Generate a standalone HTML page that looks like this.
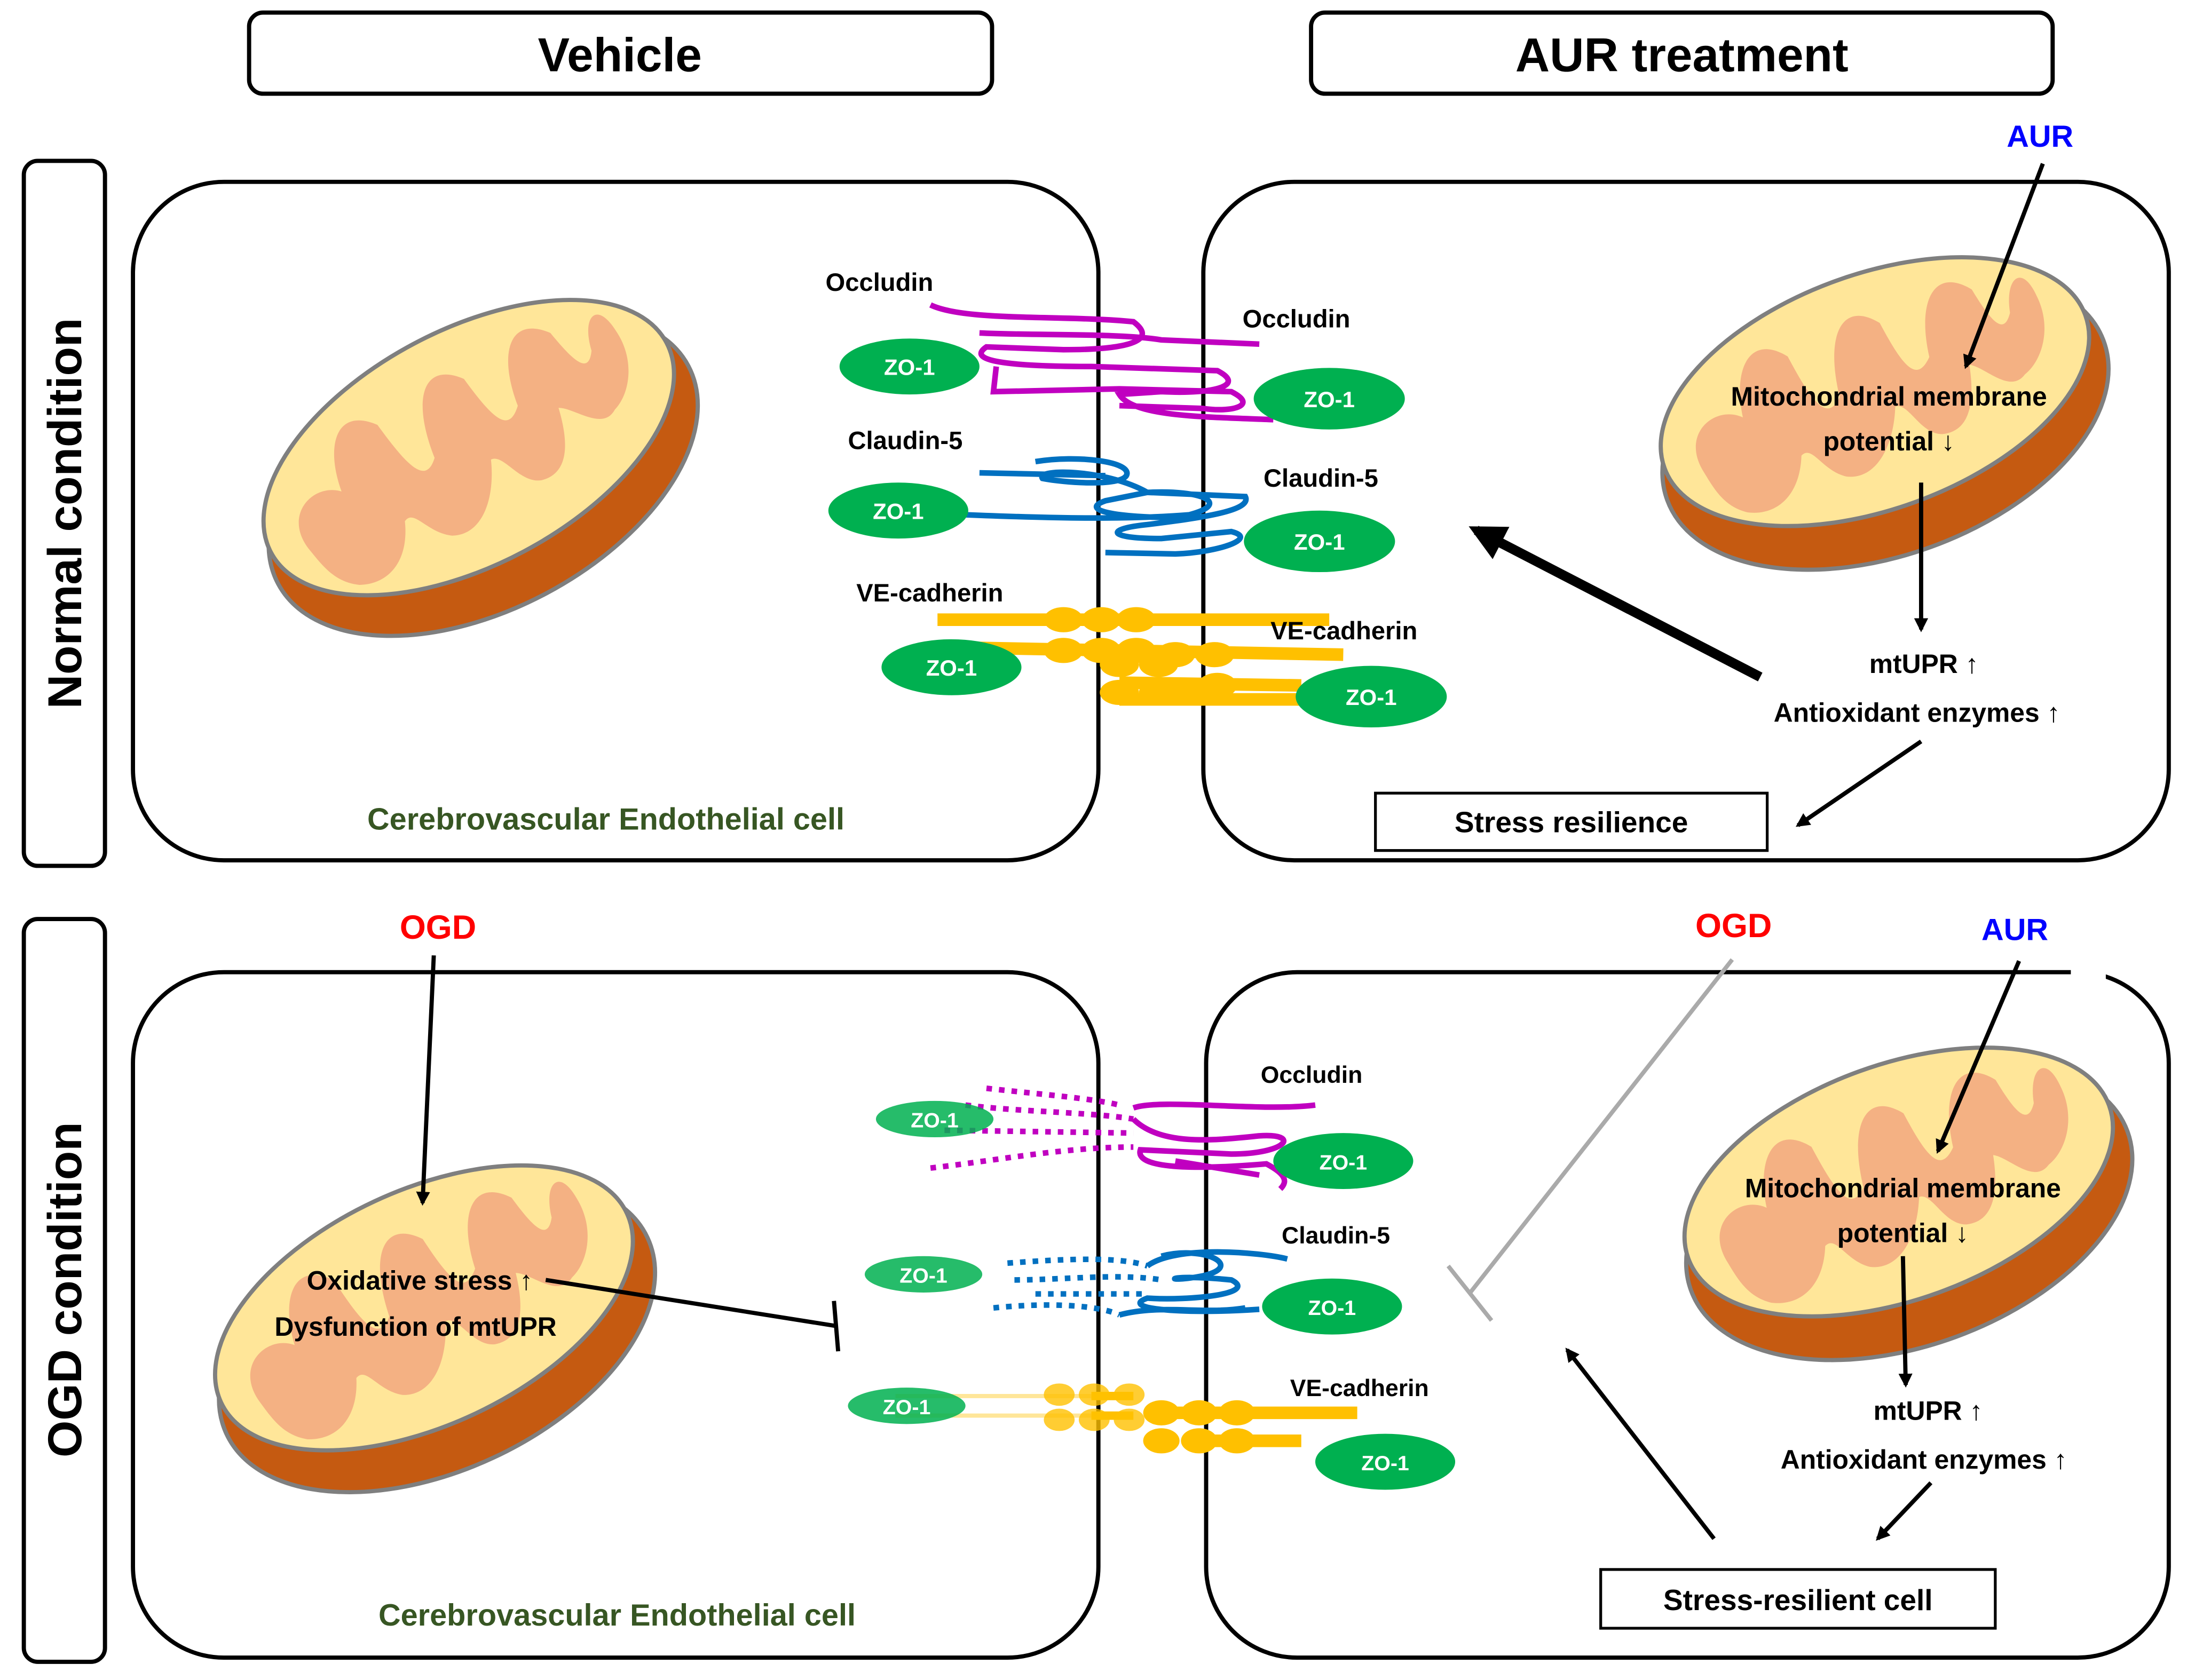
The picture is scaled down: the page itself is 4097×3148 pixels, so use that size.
<!DOCTYPE html>
<html><head><meta charset="utf-8"><style>
html,body{margin:0;padding:0;background:#fff;}
svg{display:block;}
text{font-family:"Liberation Sans",Arial,sans-serif;font-weight:bold;}
</style></head><body>
<svg width="4097" height="3148" viewBox="0 0 1563 1201" xmlns="http://www.w3.org/2000/svg">
<defs>
<g id="mito">
  <ellipse cx="0" cy="22" rx="166" ry="96" fill="#c55a11" stroke="#7f7f7f" stroke-width="3"/>
  <ellipse cx="0" cy="0" rx="160" ry="84" fill="#ffe699" stroke="#7f7f7f" stroke-width="3"/>
  <path d="M-135,10 C-140,-20 -110,-30 -95,-15 C-90,-50 -70,-70 -50,-45 C-45,-10 -40,10 -25,-5 C-20,-50 0,-70 20,-45 C25,-10 30,5 45,-10 C50,-50 70,-70 90,-45 C95,-20 100,-5 110,-20 C115,-45 130,-50 132,-25 C135,0 120,20 105,25 C90,35 80,10 70,5 C65,30 55,50 35,45 C20,40 20,15 10,15 C0,40 -20,60 -40,50 C-55,40 -55,20 -65,25 C-75,50 -95,60 -115,50 C-130,40 -132,25 -135,10 Z" fill="#f4b183"/>
</g>
<marker id="ah" markerWidth="10" markerHeight="10" refX="8" refY="5" orient="auto" markerUnits="userSpaceOnUse"><path d="M0,0 L10,5 L0,10 Z" fill="#000"/></marker>
<marker id="ahb" markerWidth="26" markerHeight="26" refX="20" refY="13" orient="auto" markerUnits="userSpaceOnUse"><path d="M0,0 L26,13 L0,26 Z" fill="#000"/></marker>
</defs>

<!-- headers -->
<rect x="178" y="9" width="531" height="58" rx="10" fill="#fff" stroke="#000" stroke-width="3"/>
<text x="443" y="51" font-size="34" text-anchor="middle">Vehicle</text>
<rect x="937" y="9" width="530" height="58" rx="10" fill="#fff" stroke="#000" stroke-width="3"/>
<text x="1202" y="51" font-size="34" text-anchor="middle">AUR  treatment</text>
<rect x="17" y="115" width="58" height="504" rx="10" fill="#fff" stroke="#000" stroke-width="3"/>
<text transform="translate(58,367) rotate(-90)" font-size="34" text-anchor="middle">Normal  condition</text>
<rect x="17" y="657" width="58" height="531" rx="10" fill="#fff" stroke="#000" stroke-width="3"/>
<text transform="translate(58,922) rotate(-90)" font-size="34" text-anchor="middle">OGD condition</text>

<!-- cells -->
<rect x="95" y="130" width="690" height="485" rx="65" fill="none" stroke="#000" stroke-width="3"/>
<rect x="860" y="130" width="690" height="485" rx="65" fill="none" stroke="#000" stroke-width="3"/>
<rect x="95" y="695" width="690" height="490" rx="65" fill="none" stroke="#000" stroke-width="3"/>
<rect x="862" y="695" width="688" height="490" rx="65" fill="none" stroke="#000" stroke-width="3"/>
<rect x="1480" y="690" width="25" height="20" fill="#fff"/>

<!-- mitochondria -->
<use href="#mito" transform="translate(335,320) rotate(-28)"/>
<use href="#mito" transform="translate(1340,280) rotate(-20)"/>
<use href="#mito" transform="translate(303,935) rotate(-25)"/>
<use href="#mito" transform="translate(1357,845) rotate(-20)"/>

<!-- TOP junction -->
<g fill="none" stroke-width="4">
<path d="M665,218 C690,230 760,225 810,230 C830,245 800,250 760,250 L705,248 C690,258 720,262 780,262 L870,265 C890,275 870,282 830,280 L800,282 C810,298 860,298 910,300 M700,238 C740,240 800,238 830,243 L900,246 M712,262 L710,280 L800,278 L880,280 C900,290 880,295 860,292 L800,290" stroke="#c000c0"/>
<path d="M690,368 C740,370 800,372 850,368 C880,360 860,350 820,352 L790,358 C770,365 800,370 840,370 M740,330 C770,325 810,330 805,340 C800,348 760,345 745,342 C740,335 790,335 820,352 L890,355 C895,365 860,370 820,375 C790,378 790,385 830,385 L880,380 C900,385 870,395 840,396 L790,395 M700,338 L790,340" stroke="#0070c0"/>
<path d="M670,443 L950,443 M690,463 L960,468 M800,488 L930,490 M800,500 L930,500" stroke="#ffc000" stroke-width="9"/>
</g>
<g fill="#ffc000">
<ellipse cx="760" cy="443" rx="14" ry="9"/><ellipse cx="787" cy="443" rx="14" ry="9"/><ellipse cx="812" cy="443" rx="14" ry="9"/>
<ellipse cx="760" cy="465" rx="14" ry="9"/><ellipse cx="787" cy="465" rx="14" ry="9"/><ellipse cx="812" cy="465" rx="14" ry="9"/><ellipse cx="840" cy="468" rx="14" ry="9"/><ellipse cx="868" cy="468" rx="14" ry="9"/>
<ellipse cx="800" cy="475" rx="14" ry="9"/><ellipse cx="828" cy="475" rx="14" ry="9"/>
<ellipse cx="800" cy="495" rx="14" ry="9"/><ellipse cx="828" cy="495" rx="14" ry="9"/><ellipse cx="855" cy="495" rx="14" ry="9"/><ellipse cx="870" cy="490" rx="14" ry="9"/>
</g>
<g fill="#00b050">
<ellipse cx="650" cy="262" rx="50" ry="20"/><ellipse cx="950" cy="285" rx="54" ry="22"/>
<ellipse cx="642" cy="365" rx="50" ry="20"/><ellipse cx="943" cy="387" rx="54" ry="22"/>
<ellipse cx="680" cy="477" rx="50" ry="20"/><ellipse cx="980" cy="498" rx="54" ry="22"/>
</g>
<g fill="#fff" font-size="16" text-anchor="middle">
<text x="650" y="268">ZO-1</text><text x="950" y="291">ZO-1</text>
<text x="642" y="371">ZO-1</text><text x="943" y="393">ZO-1</text>
<text x="680" y="483">ZO-1</text><text x="980" y="504">ZO-1</text>
</g>
<g font-size="18">
<text x="590" y="208">Occludin</text><text x="888" y="234">Occludin</text>
<text x="606" y="321">Claudin-5</text><text x="903" y="348">Claudin-5</text>
<text x="612" y="430">VE-cadherin</text><text x="908" y="457">VE-cadherin</text>
</g>
<text x="433" y="593" font-size="22" fill="#375623" text-anchor="middle">Cerebrovascular Endothelial cell</text>

<!-- top right pathway -->
<text x="1458" y="105" font-size="22" fill="#0000ff" text-anchor="middle">AUR</text>
<line x1="1460" y1="117" x2="1405" y2="262" stroke="#000" stroke-width="3" marker-end="url(#ah)"/>
<text x="1350" y="290" font-size="19" text-anchor="middle">Mitochondrial membrane</text>
<text x="1350" y="322" font-size="19" text-anchor="middle">potential ↓</text>
<line x1="1373" y1="345" x2="1373" y2="450" stroke="#000" stroke-width="3" marker-end="url(#ah)"/>
<text x="1375" y="481" font-size="19" text-anchor="middle">mtUPR ↑</text>
<text x="1370" y="516" font-size="19" text-anchor="middle">Antioxidant enzymes ↑</text>
<line x1="1258" y1="484" x2="1055" y2="379" stroke="#000" stroke-width="7" marker-end="url(#ahb)"/>
<line x1="1373" y1="530" x2="1285" y2="590" stroke="#000" stroke-width="3" marker-end="url(#ah)"/>
<rect x="983" y="567" width="280" height="41" fill="#fff" stroke="#000" stroke-width="2"/>
<text x="1123" y="595" font-size="21" text-anchor="middle">Stress resilience</text>

<!-- BOTTOM junction -->
<g fill="none" stroke-width="4">
<path d="M705,778 C740,782 780,785 800,790 M690,790 C730,795 780,795 810,800 M675,808 L810,810 M665,835 C710,830 760,820 810,820" stroke="#c000c0" stroke-dasharray="4,5"/>
<path d="M810,792 C830,785 900,795 940,790 M810,800 C830,820 870,815 900,812 C930,810 920,825 880,825 L815,822 C810,838 870,835 905,832 C920,840 920,845 915,850 M840,830 L900,840" stroke="#c000c0"/>
<path d="M720,903 C760,900 800,898 820,905 M725,915 C760,915 800,910 830,915 M740,925 L820,925 M710,935 C760,930 790,935 800,940" stroke="#0070c0" stroke-dasharray="4,5"/>
<path d="M820,905 C840,890 900,895 920,900 M830,898 C860,890 890,905 860,912 C830,918 830,910 880,915 C900,925 850,930 820,928 C800,935 840,940 900,936 M800,940 C830,932 860,940 890,935" stroke="#0070c0"/>
<path d="M640,998 L780,998 M640,1012 L780,1012" stroke="#ffe699" stroke-width="3"/>
<path d="M780,998 L810,998 M780,1012 L810,1012" stroke="#ffc000" stroke-width="6"/>
<path d="M830,1010 L970,1010 M850,1030 L930,1030" stroke="#ffc000" stroke-width="9"/>
</g>
<g fill="#ffc000">
<ellipse cx="757" cy="997" rx="11" ry="8" opacity="0.8"/><ellipse cx="782" cy="997" rx="11" ry="8" opacity="0.8"/><ellipse cx="807" cy="997" rx="11" ry="8" opacity="0.8"/>
<ellipse cx="757" cy="1015" rx="11" ry="8" opacity="0.8"/><ellipse cx="782" cy="1015" rx="11" ry="8" opacity="0.8"/><ellipse cx="807" cy="1015" rx="11" ry="8" opacity="0.8"/>
<ellipse cx="830" cy="1010" rx="13" ry="9"/><ellipse cx="857" cy="1010" rx="13" ry="9"/><ellipse cx="884" cy="1010" rx="13" ry="9"/>
<ellipse cx="830" cy="1030" rx="13" ry="9"/><ellipse cx="857" cy="1030" rx="13" ry="9"/><ellipse cx="884" cy="1030" rx="13" ry="9"/>
</g>
<g fill="#00b050">
<ellipse cx="668" cy="800" rx="42" ry="13" opacity="0.85"/><ellipse cx="960" cy="830" rx="50" ry="20"/>
<ellipse cx="660" cy="911" rx="42" ry="13" opacity="0.85"/><ellipse cx="952" cy="934" rx="50" ry="20"/>
<ellipse cx="648" cy="1005" rx="42" ry="13" opacity="0.85"/><ellipse cx="990" cy="1045" rx="50" ry="20"/>
</g>
<g fill="#fff" font-size="15" text-anchor="middle">
<text x="668" y="806">ZO-1</text><text x="960" y="836">ZO-1</text>
<text x="660" y="917">ZO-1</text><text x="952" y="940">ZO-1</text>
<text x="648" y="1011">ZO-1</text><text x="990" y="1051">ZO-1</text>
</g>
<g font-size="17">
<text x="901" y="774">Occludin</text>
<text x="916" y="889">Claudin-5</text>
<text x="922" y="998">VE-cadherin</text>
</g>
<text x="441" y="1162" font-size="22" fill="#375623" text-anchor="middle">Cerebrovascular Endothelial cell</text>

<!-- bottom left pathway -->
<text x="313" y="671" font-size="24" fill="#ff0000" text-anchor="middle">OGD</text>
<line x1="310" y1="683" x2="302" y2="860" stroke="#000" stroke-width="3" marker-end="url(#ah)"/>
<text x="300" y="922" font-size="19" text-anchor="middle">Oxidative stress ↑</text>
<text x="297" y="955" font-size="19" text-anchor="middle">Dysfunction of mtUPR</text>
<line x1="390" y1="915" x2="598" y2="948" stroke="#000" stroke-width="3"/>
<line x1="596" y1="930" x2="599" y2="966" stroke="#000" stroke-width="3"/>

<!-- bottom right pathway -->
<text x="1239" y="670" font-size="24" fill="#ff0000" text-anchor="middle">OGD</text>
<line x1="1238" y1="686" x2="1050" y2="925" stroke="#aaaaaa" stroke-width="3"/>
<line x1="1035" y1="905" x2="1066" y2="944" stroke="#aaaaaa" stroke-width="3"/>
<text x="1440" y="672" font-size="22" fill="#0000ff" text-anchor="middle">AUR</text>
<line x1="1443" y1="687" x2="1385" y2="823" stroke="#000" stroke-width="3" marker-end="url(#ah)"/>
<text x="1360" y="856" font-size="19" text-anchor="middle">Mitochondrial membrane</text>
<text x="1360" y="888" font-size="19" text-anchor="middle">potential ↓</text>
<line x1="1360" y1="898" x2="1362" y2="990" stroke="#000" stroke-width="3" marker-end="url(#ah)"/>
<text x="1378" y="1015" font-size="19" text-anchor="middle">mtUPR ↑</text>
<text x="1375" y="1050" font-size="19" text-anchor="middle">Antioxidant enzymes ↑</text>
<line x1="1380" y1="1060" x2="1342" y2="1100" stroke="#000" stroke-width="3" marker-end="url(#ah)"/>
<line x1="1225" y1="1100" x2="1120" y2="965" stroke="#000" stroke-width="3" marker-end="url(#ah)"/>
<rect x="1144" y="1122" width="282" height="42" fill="#fff" stroke="#000" stroke-width="2"/>
<text x="1285" y="1151" font-size="21" text-anchor="middle">Stress-resilient cell</text>
</svg>
</body></html>
